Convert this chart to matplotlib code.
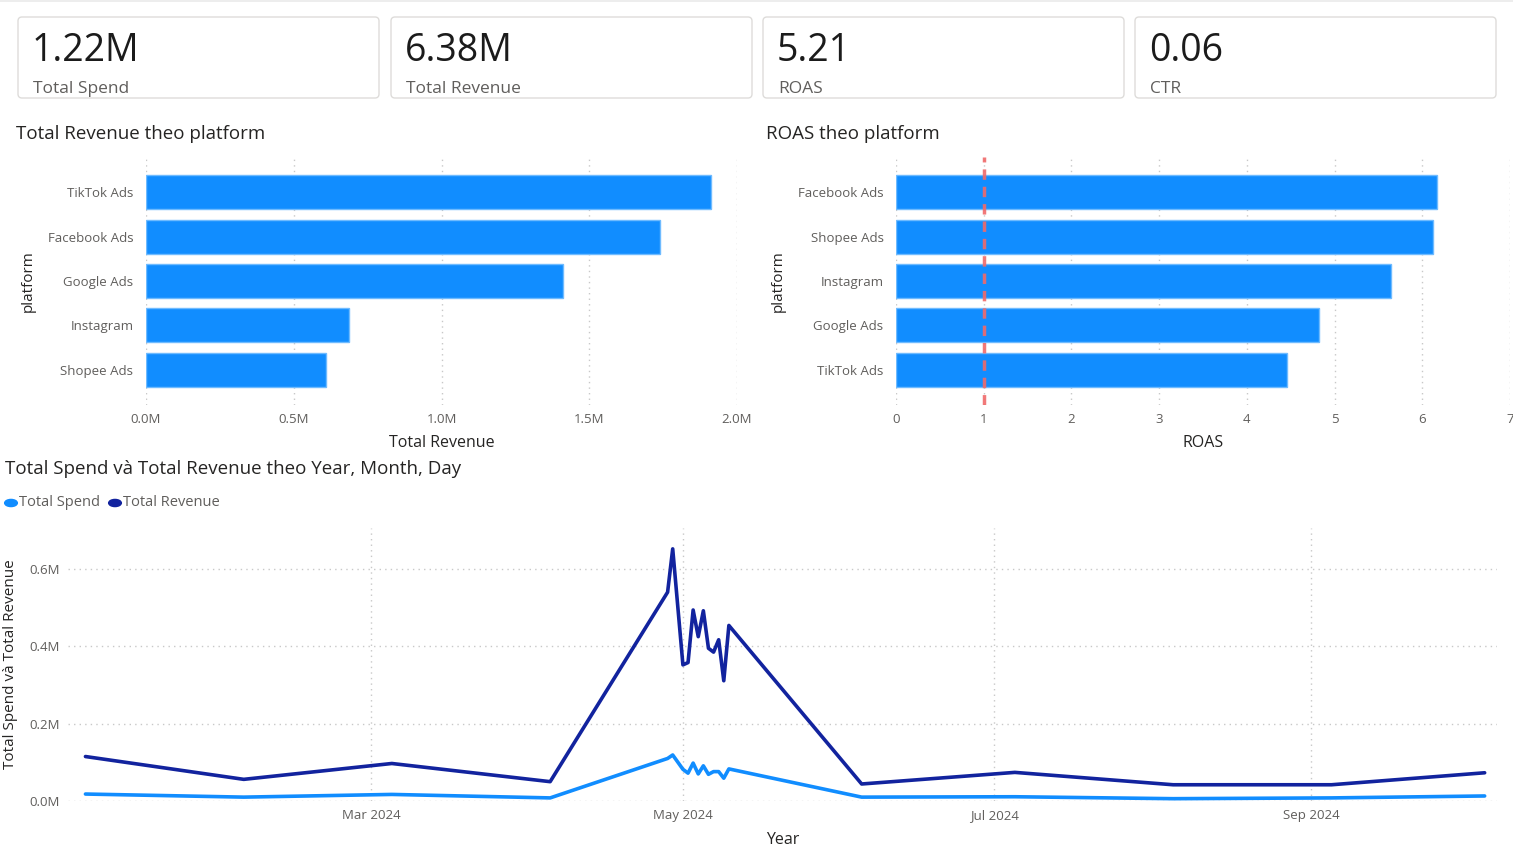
import matplotlib
matplotlib.use("Agg")
import matplotlib.pyplot as plt
import matplotlib.dates as mdates
from matplotlib.patches import FancyBboxPatch
from matplotlib.transforms import IdentityTransform
from matplotlib.ticker import FuncFormatter, MultipleLocator
import numpy as np
import pandas as pd

# ---------------- data ----------------
kpi_values = ["1.22M", "6.38M", "5.21", "0.06"]
kpi_labels = ["Total Spend", "Total Revenue", "ROAS", "CTR"]

rev_platforms = ["TikTok Ads", "Facebook Ads", "Google Ads", "Instagram", "Shopee Ads"]
rev_values = [1.912, 1.739, 1.411, 0.687, 0.609]  # millions

roas_platforms = ["Facebook Ads", "Shopee Ads", "Instagram", "Google Ads", "TikTok Ads"]
roas_values = [6.17, 6.12, 5.64, 4.82, 4.46]
roas_reference = 1

dates = ["2024-01-05", "2024-02-05", "2024-03-05", "2024-04-05",
         "2024-04-28", "2024-04-29", "2024-05-01", "2024-05-02", "2024-05-03",
         "2024-05-04", "2024-05-05", "2024-05-06", "2024-05-07", "2024-05-08",
         "2024-05-09", "2024-05-10",
         "2024-06-05", "2024-07-05", "2024-08-05", "2024-09-05", "2024-10-05"]
total_revenue = [0.115, 0.056, 0.097, 0.050,
                 0.540, 0.652, 0.352, 0.358, 0.494,
                 0.425, 0.492, 0.395, 0.385, 0.417,
                 0.311, 0.454,
                 0.044, 0.074, 0.042, 0.042, 0.073]
total_spend = [0.018, 0.010, 0.017, 0.008,
               0.110, 0.119, 0.082, 0.072, 0.098,
               0.070, 0.091, 0.069, 0.076, 0.076,
               0.059, 0.083,
               0.010, 0.011, 0.006, 0.008, 0.013]

# ---------------- style ----------------
W, H = 1513, 849
FONT = ["Open Sans", "DejaVu Sans"]
plt.rcParams["font.family"] = FONT
BLUE = "#118DFF"
NAVY = "#12239E"
GRAY = "#605E5C"
DARK = "#252423"
GRID = "#C8C8C8"

fig = plt.figure(figsize=(W / 100, H / 100), dpi=100)
fig.patch.set_facecolor("white")


def fx(x):
    return x / W


def fy(y):
    return 1 - y / H


# top thin band
fig.add_artist(FancyBboxPatch((0, H - 2), W, 2, boxstyle="square,pad=0",
                              transform=IdentityTransform(), facecolor="#EDEDED",
                              edgecolor="none"))

# ---------------- KPI cards ----------------
card_x = [18, 391, 763, 1135]
for cx, val, lab in zip(card_x, kpi_values, kpi_labels):
    box = FancyBboxPatch((cx, H - 98), 361, 81,
                         boxstyle="round,pad=0,rounding_size=4",
                         transform=IdentityTransform(), facecolor="white",
                         edgecolor="#DEDCDA", linewidth=1.0)
    fig.add_artist(box)
    fig.text(fx(cx + 14), fy(51), val, fontsize=27, color="#1B1B1B",
             va="center", ha="left")
    fig.text(fx(cx + 15), fy(89), lab, fontsize=12.5, color=GRAY,
             va="center", ha="left")


def mfmt(v, pos):
    return f"{v:.1f}M"


def style_bar_axes(ax):
    for s in ax.spines.values():
        s.set_visible(False)
    ax.tick_params(axis="both", length=0, colors=GRAY, labelsize=9.5)
    ax.tick_params(axis="y", pad=9)
    ax.tick_params(axis="x", pad=6)
    ax.grid(axis="x", color=GRID, linestyle=(0, (1, 3)), linewidth=1)
    ax.set_axisbelow(True)


# ---------------- revenue by platform ----------------
ax1 = fig.add_axes([fx(146), fy(405), fx(737 - 146), (405 - 157) / H])
y1 = np.arange(len(rev_platforms))
ax1.barh(y1, rev_values, height=0.77, color=BLUE, edgecolor="#6FBBFF", linewidth=1)
ax1.set_yticks(y1)
ax1.set_yticklabels(rev_platforms)
ax1.set_ylim(4.8, -0.8)
ax1.set_xlim(0, 2.0)
ax1.xaxis.set_major_locator(MultipleLocator(0.5))
ax1.xaxis.set_major_formatter(FuncFormatter(mfmt))
style_bar_axes(ax1)
ax1.set_xlabel("Total Revenue", fontsize=11.5, color=DARK, labelpad=6)
ax1.set_ylabel("platform", fontsize=11, color=DARK, labelpad=9)
fig.text(fx(16), fy(134), "Total Revenue theo platform", fontsize=13.5,
         color=DARK, va="center", ha="left")

# ---------------- ROAS by platform ----------------
ax2 = fig.add_axes([fx(896), fy(405), fx(1510 - 896), (405 - 157) / H])
y2 = np.arange(len(roas_platforms))
ax2.barh(y2, roas_values, height=0.77, color=BLUE, edgecolor="#6FBBFF", linewidth=1)
ax2.set_yticks(y2)
ax2.set_yticklabels(roas_platforms)
ax2.set_ylim(4.8, -0.8)
ax2.set_xlim(0, 7)
ax2.xaxis.set_major_locator(MultipleLocator(1))
style_bar_axes(ax2)
ax2.axvline(roas_reference, color="#F06A6A", linestyle=(0, (3, 2)), linewidth=2.5,
            alpha=0.9, zorder=5)
ax2.set_xlabel("ROAS", fontsize=11.5, color=DARK, labelpad=6)
ax2.set_ylabel("platform", fontsize=11, color=DARK, labelpad=9)
fig.text(fx(766), fy(134), "ROAS theo platform", fontsize=13.5,
         color=DARK, va="center", ha="left")

# ---------------- line chart ----------------
d = pd.to_datetime(dates)
ax3 = fig.add_axes([fx(68), fy(801), fx(1497 - 68), (801 - 528) / H])
ax3.plot(d, total_spend, color=BLUE, linewidth=2.6, solid_joinstyle="round",
         solid_capstyle="round", label="Total Spend", zorder=3)
ax3.plot(d, total_revenue, color=NAVY, linewidth=2.6, solid_joinstyle="round",
         solid_capstyle="round", label="Total Revenue", zorder=3)
ax3.set_ylim(0, 0.706)
ax3.set_xlim(pd.Timestamp("2024-01-01 14:00"), pd.Timestamp("2024-10-07 10:00"))
ax3.yaxis.set_major_locator(MultipleLocator(0.2))
ax3.yaxis.set_major_formatter(FuncFormatter(mfmt))
ax3.xaxis.set_major_locator(mdates.MonthLocator(bymonth=[3, 5, 7, 9]))
ax3.xaxis.set_major_formatter(mdates.DateFormatter("%b %Y"))
for s in ax3.spines.values():
    s.set_visible(False)
ax3.tick_params(axis="both", length=0, colors=GRAY, labelsize=9.5)
ax3.tick_params(axis="y", pad=6)
ax3.tick_params(axis="x", pad=6)
ax3.grid(True, color=GRID, linestyle=(0, (1, 3)), linewidth=1)
ax3.set_axisbelow(True)
ax3.set_xlabel("Year", fontsize=11.5, color=DARK, labelpad=7)
ax3.set_ylabel("Total Spend và Total Revenue", fontsize=11, color=DARK, labelpad=8)
fig.text(fx(5), fy(469), "Total Spend và Total Revenue theo Year, Month, Day",
         fontsize=13.5, color=DARK, va="center", ha="left")

# legend
fig.add_artist(plt.Circle((fx(11), fy(503)), 0.0042, transform=fig.transFigure,
                          color=BLUE))
fig.text(fx(19), fy(503), "Total Spend", fontsize=10.5, color=GRAY, va="center")
fig.add_artist(plt.Circle((fx(115), fy(503)), 0.0042, transform=fig.transFigure,
                          color=NAVY))
fig.text(fx(123), fy(503), "Total Revenue", fontsize=10.5, color=GRAY, va="center")

fig.savefig("out.png", dpi=100, facecolor="white")
